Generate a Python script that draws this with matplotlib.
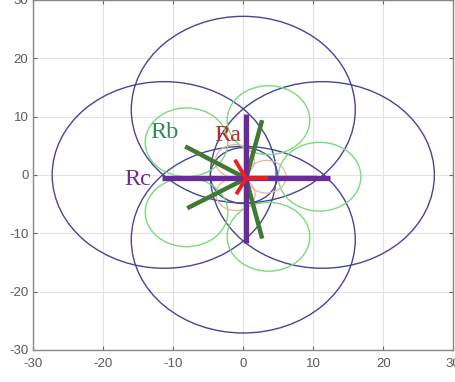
import numpy as np
import matplotlib
matplotlib.use("Agg")
import matplotlib.pyplot as plt
from matplotlib.patches import Circle

plt.rcParams['axes.unicode_minus'] = False

# star centre (slightly off the origin in the picture)
cx, cy = 0.4, -0.6

# Rc: four arm end points (purple)
rc_x = [12.4, 0.4, -11.6, 0.4]
rc_y = [-0.6, 10.4, -0.6, -11.7]

# Rb: five arm end points (green)
rb_x = [10.5, 2.7, -8.3, -8.0, 2.7]
rb_y = [-0.6, 9.4, 4.9, -5.7, -10.9]

# Ra: three arm end points (red)
ra_x = [3.5, -1.2, -1.0]
ra_y = [-0.5, 2.6, -3.3]

# big blue circles
blue_x = [0.0, -11.3, 11.3, 0.0, 0.1]
blue_y = [11.2, 0.0, 0.0, -11.1, -0.1]
blue_r = [16.0, 16.0, 16.0, 16.0, 4.8]

# green circles
green_x = [10.9, 3.6, -8.1, -8.1, 3.6]
green_y = [-0.3, 9.4, 5.6, -6.4, -10.6]
green_r = [5.9, 5.9, 5.9, 5.9, 5.9]

# small red circles
red_x = [3.3, -1.2, -1.1]
red_y = [-0.3, 2.4, -3.3]
red_r = [2.8, 2.8, 2.8]

ticks = [-30, -20, -10, 0, 10, 20, 30]

fig = plt.figure(figsize=(4.56, 3.82), dpi=100)
ax = fig.add_axes([0.073, 0.084, 0.921, 0.916])

for x, y, r in zip(blue_x, blue_y, blue_r):
    ax.add_patch(Circle((x, y), r, fill=False, color='#45459a', lw=1.0, zorder=2))
for x, y, r in zip(green_x, green_y, green_r):
    ax.add_patch(Circle((x, y), r, fill=False, color='#78dc78', lw=1.0, zorder=2))
for x, y, r in zip(red_x, red_y, red_r):
    ax.add_patch(Circle((x, y), r, fill=False, color='#e8b4a8', lw=0.9, zorder=2))

for x, y in zip(rb_x, rb_y):
    ax.plot([cx, x], [cy, y], color='#3e7a30', lw=3.2, solid_capstyle='butt', zorder=3)
for x, y in zip(rc_x, rc_y):
    ax.plot([cx, x], [cy, y], color='#6a2a9e', lw=3.8, solid_capstyle='butt', zorder=4)
for x, y in zip(ra_x, ra_y):
    ax.plot([cx, x], [cy, y], color='#e82020', lw=2.8, solid_capstyle='butt', zorder=5)

ax.text(-11.2, 7.3, 'Rb', color='#2e8a5a', fontsize=17.5, family='Liberation Serif',
        ha='center', va='center', zorder=6)
ax.text(-2.2, 6.7, 'Ra', color='#c82828', fontsize=17.5, family='Liberation Serif',
        ha='center', va='center', zorder=6)
ax.text(-15.1, -0.8, 'Rc', color='#7a2a8a', fontsize=17.5, family='Liberation Serif',
        ha='center', va='center', zorder=6)

ax.set_xlim(-30, 30)
ax.set_ylim(-30, 30)
ax.set_xticks(ticks)
ax.set_yticks(ticks)
ax.grid(True, color='#e2e2e2', lw=0.8)
ax.set_axisbelow(True)
ax.tick_params(direction='in', length=3, color='#666', labelcolor='#5a5a5a',
               labelsize=9.5, top=True, right=True)
ax.tick_params(axis='x', pad=6)
for lab in ax.get_xticklabels() + ax.get_yticklabels():
    lab.set_family('Liberation Sans')
for s in ax.spines.values():
    s.set_color('#888888')
    s.set_linewidth(1.0)

fig.savefig('out.png', dpi=100)
